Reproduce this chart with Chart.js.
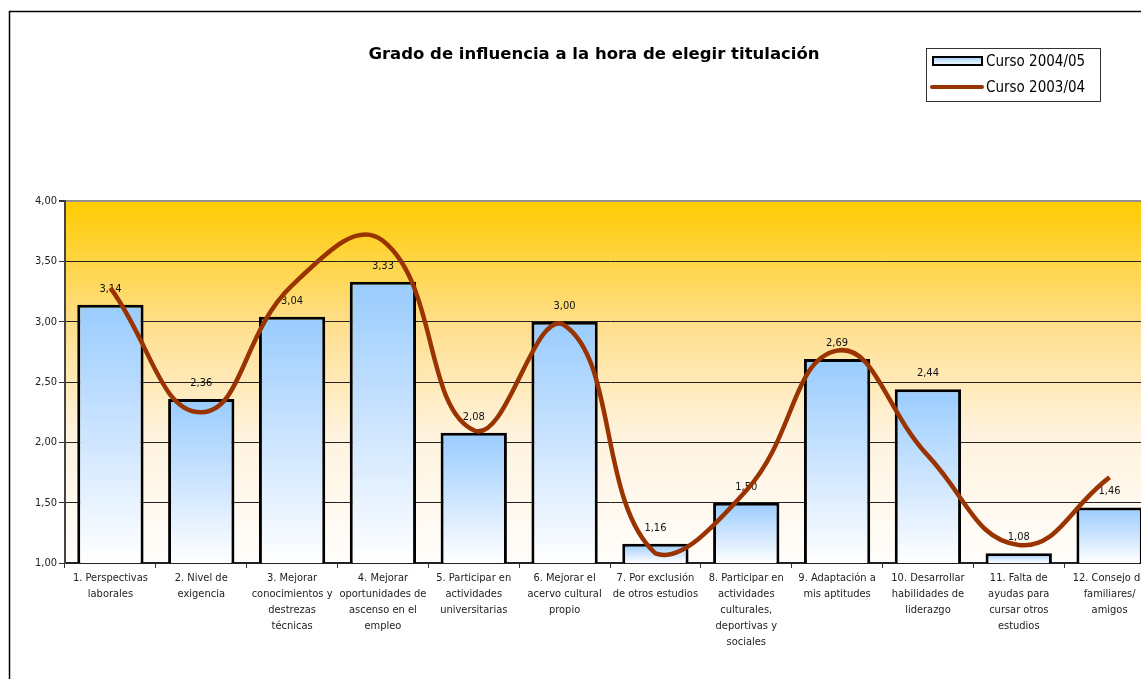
<!DOCTYPE html>
<html>
<head>
<meta charset="utf-8">
<script src="https://cdn.jsdelivr.net/npm/chart.js@4"></script>
<style>
  html, body { margin: 0; padding: 0; background: #fff; overflow: hidden; }
  #wrap { width: 1200px; height: 679px; }
</style>
</head>
<body>
<div id="wrap"><canvas id="myChart"></canvas></div>
<script>
// categorias (eje x, multilinea)
const categorias = [
  ['1. Perspectivas', 'laborales'],
  ['2. Nivel de', 'exigencia'],
  ['3. Mejorar', 'conocimientos y', 'destrezas', 'técnicas'],
  ['4. Mejorar', 'oportunidades de', 'ascenso en el', 'empleo'],
  ['5. Participar en', 'actividades', 'universitarias'],
  ['6. Mejorar el', 'acervo cultural', 'propio'],
  ['7. Por exclusión', 'de otros estudios'],
  ['8. Participar en', 'actividades', 'culturales,', 'deportivas y', 'sociales'],
  ['9. Adaptación a', 'mis aptitudes'],
  ['10. Desarrollar', 'habilidades de', 'liderazgo'],
  ['11. Falta de', 'ayudas para', 'cursar otros', 'estudios'],
  ['12. Consejo de', 'familiares/', 'amigos']
];

// Curso 2004/05 (barras)
const curso0405 = [3.14, 2.36, 3.04, 3.33, 2.08, 3.00, 1.16, 1.50, 2.69, 2.44, 1.08, 1.46];
// Curso 2003/04 (linea suavizada)
const curso0304 = [3.28, 2.25, 3.30, 3.67, 2.10, 2.97, 1.08, 1.60, 2.76, 1.89, 1.15, 1.71];

const yTicks = ['1,00', '1,50', '2,00', '2,50', '3,00', '3,50', '4,00'];

const FONT = "'DejaVu Sans Condensed', 'Liberation Sans', sans-serif";

// fondo del area, marco, titulo, leyenda y etiquetas
const decor = {
  id: 'decor',
  beforeDraw(chart) {
    const { ctx, chartArea: a } = chart;
    const g = ctx.createLinearGradient(0, a.top, 0, a.bottom);
    g.addColorStop(0, '#FFCC00');
    g.addColorStop(0.35, '#FFDF8F');
    g.addColorStop(0.65, '#FFF3DF');
    g.addColorStop(1, '#FFFDFB');
    ctx.save();
    ctx.fillStyle = g;
    ctx.fillRect(a.left, a.top, a.right - a.left, a.bottom - a.top);
    ctx.restore();
  },
  afterDatasetDraw(chart, args) {
    if (args.index !== 0) return;
    const { ctx } = chart;
    ctx.save();
    ctx.font = '11px ' + FONT;
    ctx.fillStyle = '#111';
    ctx.textAlign = 'center';
    ctx.textBaseline = 'middle';
    args.meta.data.forEach((bar, i) => {
      ctx.fillText(curso0405[i].toFixed(2).replace('.', ','), bar.x, bar.y - 16);
    });
    ctx.restore();
  },
  afterDraw(chart) {
    const { ctx } = chart;
    ctx.save();
    // marco
    ctx.strokeStyle = '#000';
    ctx.lineWidth = 1.5;
    ctx.beginPath();
    ctx.moveTo(9.5, 679);
    ctx.lineTo(9.5, 11.5);
    ctx.lineTo(1200, 11.5);
    ctx.stroke();

    // titulo
    ctx.fillStyle = '#000';
    ctx.font = "bold 16.5px 'DejaVu Sans', sans-serif";
    ctx.textAlign = 'center';
    ctx.textBaseline = 'middle';
    ctx.fillText('Grado de influencia a la hora de elegir titulación', 594, 55);

    // leyenda
    ctx.fillStyle = '#fff';
    ctx.fillRect(926, 48, 175, 54);
    ctx.strokeStyle = '#333';
    ctx.lineWidth = 1;
    ctx.strokeRect(926.5, 48.5, 174, 53);

    const sg = ctx.createLinearGradient(0, 56, 0, 66);
    sg.addColorStop(0, '#99CCFF');
    sg.addColorStop(1, '#FFFFFF');
    ctx.fillStyle = sg;
    ctx.fillRect(932, 56, 51, 10);
    ctx.strokeStyle = '#000';
    ctx.lineWidth = 2;
    ctx.strokeRect(933, 57, 49, 8);

    ctx.strokeStyle = '#993300';
    ctx.lineWidth = 4;
    ctx.lineCap = 'round';
    ctx.beginPath();
    ctx.moveTo(932, 87);
    ctx.lineTo(982, 87);
    ctx.stroke();

    ctx.fillStyle = '#000';
    ctx.font = '15px ' + FONT;
    ctx.textAlign = 'left';
    ctx.fillText('Curso 2004/05', 986, 62);
    ctx.fillText('Curso 2003/04', 986, 88);
    ctx.restore();
  }
};

const ctx = document.getElementById('myChart');

new Chart(ctx, {
  type: 'bar',
  data: {
    labels: categorias,
    datasets: [{
      label: 'Curso 2004/05',
      data: curso0405,
      order: 2,
      backgroundColor: (c) => {
        const chart = c.chart;
        const a = chart.chartArea;
        if (!a || c.dataIndex === undefined) return '#99CCFF';
        const top = chart.scales.y.getPixelForValue(curso0405[c.dataIndex]);
        const g = chart.ctx.createLinearGradient(0, top, 0, a.bottom);
        g.addColorStop(0, '#99CCFF');
        g.addColorStop(0.5, '#CCE4FF');
        g.addColorStop(1, '#FFFFFF');
        return g;
      },
      borderColor: '#000',
      borderWidth: 3,
      borderSkipped: false,
      categoryPercentage: 1,
      barPercentage: 0.73
    }, {
      type: 'line',
      label: 'Curso 2003/04',
      data: curso0304,
      order: 1,
      borderColor: '#993300',
      borderWidth: 4.5,
      tension: 0.45,
      pointRadius: 0,
      fill: false,
      clip: false
    }]
  },
  options: {
    responsive: true,
    maintainAspectRatio: false,
    animation: false,
    layout: { padding: { top: 201, left: 0, right: 45, bottom: 0 } },
    plugins: {
      legend: { display: false },
      title: { display: false },
      tooltip: { enabled: false }
    },
    scales: {
      x: {
        afterFit: (s) => { s.height = 116; },
        grid: { drawOnChartArea: false, drawTicks: true, tickLength: 5, color: '#333', offset: true },
        border: { color: '#222', width: 1.5 },
        ticks: {
          autoSkip: false,
          maxRotation: 0,
          minRotation: 0,
          padding: 2,
          color: '#222',
          font: { family: FONT, size: 11, lineHeight: 16 / 11 }
        }
      },
      y: {
        min: 1,
        max: 4,
        afterFit: (s) => { s.width = 65; },
        grid: {
          color: (c) => c.tick && c.tick.value === 4 ? '#909090' : '#222',
          lineWidth: (c) => c.tick && c.tick.value === 4 ? 2 : 1,
          tickLength: 6,
          tickColor: '#333'
        },
        border: { color: '#444', width: 2 },
        ticks: {
          stepSize: 0.5,
          padding: 2,
          color: '#222',
          font: { family: FONT, size: 11 },
          callback: (v, i) => yTicks[i]
        }
      }
    }
  },
  plugins: [decor]
});
</script>
</body>
</html>
